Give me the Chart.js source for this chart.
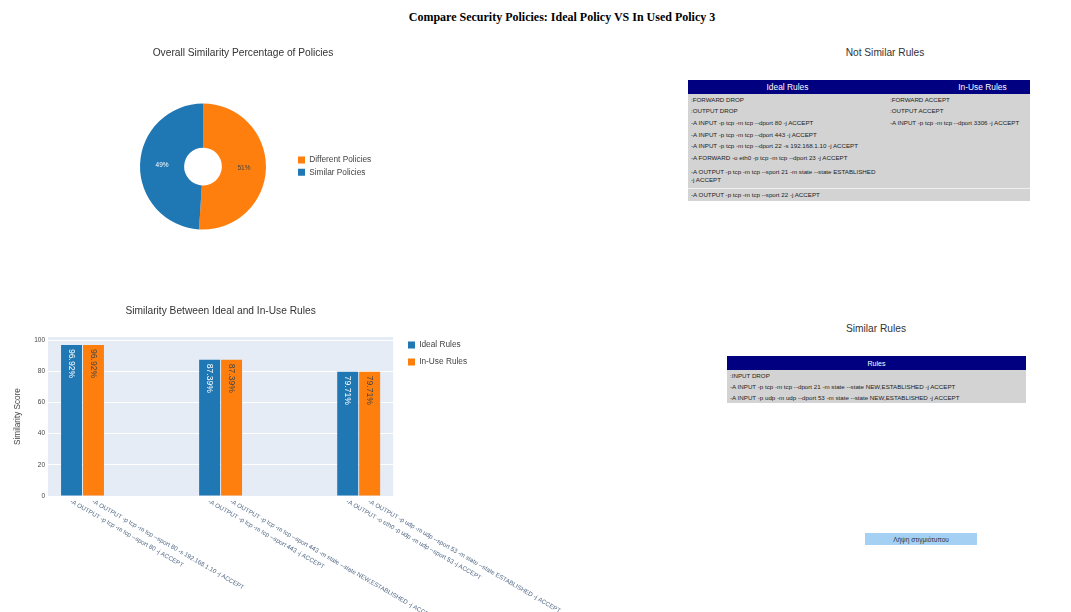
<!DOCTYPE html>
<html>
<head>
<meta charset="utf-8">
<title>Compare Security Policies</title>
<script src="https://cdn.jsdelivr.net/npm/chart.js@4.4.1/dist/chart.umd.min.js"></script>
<style>
  html, body { margin: 0; padding: 0; background: #fff; width: 1071px; height: 612px; overflow: hidden;
    font-family: "Liberation Sans", Arial, sans-serif; }
  #mainTitle { position: absolute; left: 362px; top: 10px; width: 400px; text-align: center;
    font: bold 12px "Liberation Serif", "Times New Roman", serif; color: #000; white-space: nowrap; }
  canvas { position: absolute; display: block; }
  #pieCanvas { left: 100px; top: 40px; width: 286px; height: 200px; }
  #barCanvas { left: 0; top: 290px; width: 600px; height: 322px; }
  .panelTitle { position: absolute; font-size: 10.2px; line-height: 12px; color: #333; text-align: center; white-space: nowrap; }
  table.rules { position: absolute; border-collapse: collapse; table-layout: fixed; background: #d3d3d3;
    font-size: 6.2px; color: #222; }
  table.rules th { background: #000080; color: #fff; font-weight: normal; height: 14px; padding: 0; font-size: 8.4px; }
  table.rules td { padding: 1.8px 3px; line-height: 8px; vertical-align: middle; text-align: left; }
  #diffTable { left: 688px; top: 80px; width: 342px; }
  #diffTable td:first-child { padding-right: 9px; }
  #diffTable tr.split td { border-top: 1px solid #f0f0f0; }
  #diffTable tr.wrapped td { padding-top: 4.2px; padding-bottom: 4.2px; }
  #sameTable { left: 727px; top: 356px; width: 299px; }
  #sameTable th { font-size: 7px; }
  #sameTable td { padding: 1.5px 3px; }
  #snapBtn { position: absolute; left: 865px; top: 533px; width: 112px; height: 12px; padding: 0; border: none;
    background: #a4d0f4; color: #333; font: 6.5px "Liberation Sans", Arial, sans-serif; }
</style>
</head>
<body>
<div id="mainTitle">Compare Security Policies: Ideal Policy VS In Used Policy 3</div>

<canvas id="pieCanvas" width="286" height="200"></canvas>
<canvas id="barCanvas" width="600" height="322"></canvas>

<div class="panelTitle" style="left:785px; top:47px; width:200px;">Not Similar Rules</div>
<table class="rules" id="diffTable">
  <colgroup><col style="width:199px"><col style="width:143px"></colgroup>
  <thead><tr><th>Ideal Rules</th><th style="padding-left:48px">In-Use Rules</th></tr></thead>
  <tbody></tbody>
</table>

<div class="panelTitle" style="left:776px; top:323px; width:200px;">Similar Rules</div>
<table class="rules" id="sameTable">
  <thead><tr><th>Rules</th></tr></thead>
  <tbody></tbody>
</table>

<button id="snapBtn">Λήψη στιγμιότυπου</button>

<script>
// ---- data ----
const policyLabels = ['Different Policies', 'Similar Policies'];
const policyShares = [51, 49];

const seriesNames = ['Ideal Rules', 'In-Use Rules'];
const groupPositions = [0, 1, 2];
const idealScores = [96.92, 87.39, 79.71];
const inUseScores = [96.92, 87.39, 79.71];
const idealRuleLabels = [
  '-A OUTPUT -p tcp -m tcp --sport 80 -j ACCEPT',
  '-A OUTPUT -p tcp -m tcp --sport 443 -j ACCEPT',
  '-A OUTPUT -o eth0 -p udp -m udp --sport 53 -j ACCEPT'
];
const inUseRuleLabels = [
  '-A OUTPUT -p tcp -m tcp --sport 80 -s 192.168.1.10 -j ACCEPT',
  '-A OUTPUT -p tcp -m tcp --sport 443 -m state --state NEW,ESTABLISHED -j ACCEPT',
  '-A OUTPUT -p udp -m udp --sport 53 -m state --state ESTABLISHED -j ACCEPT'
];
const scoreTicks = [0, 20, 40, 60, 80, 100];

const idealOnlyRules = [
  ':FORWARD DROP',
  ':OUTPUT DROP',
  '-A INPUT -p tcp -m tcp --dport 80 -j ACCEPT',
  '-A INPUT -p tcp -m tcp --dport 443 -j ACCEPT',
  '-A INPUT -p tcp -m tcp --dport 22 -s 192.168.1.10 -j ACCEPT',
  '-A FORWARD -o eth0 -p tcp -m tcp --dport 23 -j ACCEPT',
  '-A OUTPUT -p tcp -m tcp --sport 21 -m state --state ESTABLISHED -j ACCEPT',
  '-A OUTPUT -p tcp -m tcp --sport 22 -j ACCEPT'
];
const inUseOnlyRules = [
  ':FORWARD ACCEPT',
  ':OUTPUT ACCEPT',
  '-A INPUT -p tcp -m tcp --dport 3306 -j ACCEPT'
];
const sharedRules = [
  ':INPUT DROP',
  '-A INPUT -p tcp -m tcp --dport 21 -m state --state NEW,ESTABLISHED -j ACCEPT',
  '-A INPUT -p udp -m udp --dport 53 -m state --state NEW,ESTABLISHED -j ACCEPT'
];

// ---- styling ----
const BLUE = '#1f77b4';
const ORANGE = '#ff7f0e';
const FONT = '"Liberation Sans", Arial, sans-serif';
Chart.defaults.font.family = FONT;
Chart.defaults.color = '#444';

// ---- rule tables ----
(function buildTables() {
  const diffBody = document.querySelector('#diffTable tbody');
  const rows = Math.max(idealOnlyRules.length, inUseOnlyRules.length);
  for (let i = 0; i < rows; i++) {
    const tr = document.createElement('tr');
    if (i === rows - 1) tr.className = 'split';
    if (i === rows - 2) tr.className = 'wrapped';
    [idealOnlyRules[i], inUseOnlyRules[i]].forEach(txt => {
      const td = document.createElement('td');
      td.textContent = txt || '';
      tr.appendChild(td);
    });
    diffBody.appendChild(tr);
  }
  const sameBody = document.querySelector('#sameTable tbody');
  sharedRules.forEach(txt => {
    const tr = document.createElement('tr');
    const td = document.createElement('td');
    td.textContent = txt;
    tr.appendChild(td);
    sameBody.appendChild(tr);
  });
})();

// ---- plugins ----
// moves a legend box to a fixed spot inside its canvas
const legendPlacement = {
  id: 'legendPlacement',
  afterLayout(chart, args, opts) {
    const lg = chart.legend;
    if (!lg) return;
    if (opts.left !== undefined) { const dx = opts.left - lg.left; lg.left += dx; lg.right += dx; }
    if (opts.top !== undefined) { const dy = opts.top - lg.top; lg.top += dy; lg.bottom += dy; }
  }
};

// percentage text on each doughnut slice
const sliceLabels = {
  id: 'sliceLabels',
  afterDatasetsDraw(chart, args, opts) {
    const {ctx} = chart;
    const ds = chart.data.datasets[0];
    const total = ds.data.reduce((a, b) => a + b, 0);
    ctx.save();
    ctx.font = `${opts.size}px ${FONT}`;
    ctx.textAlign = 'center';
    ctx.textBaseline = 'middle';
    chart.getDatasetMeta(0).data.forEach((arc, i) => {
      const p = arc.getCenterPoint();
      ctx.fillStyle = opts.colors[i];
      ctx.fillText(Math.round(ds.data[i] / total * 100) + '%', p.x, p.y);
    });
    ctx.restore();
  }
};

// plot background behind the bars
const plotBackground = {
  id: 'plotBackground',
  beforeDraw(chart, args, opts) {
    const {ctx, chartArea: a} = chart;
    ctx.save();
    ctx.fillStyle = opts.color;
    ctx.fillRect(a.left, a.top, a.right - a.left, a.bottom - a.top);
    ctx.restore();
  }
};

// vertical value text inside the top of each bar
const barValueLabels = {
  id: 'barValueLabels',
  afterDatasetsDraw(chart, args, opts) {
    const {ctx} = chart;
    ctx.save();
    ctx.font = `${opts.size}px ${FONT}`;
    ctx.textAlign = 'left';
    ctx.textBaseline = 'middle';
    chart.data.datasets.forEach((ds, di) => {
      chart.getDatasetMeta(di).data.forEach((bar, j) => {
        ctx.save();
        ctx.translate(bar.x, bar.y + opts.inset);
        ctx.rotate(Math.PI / 2);
        ctx.fillStyle = opts.colors[di];
        ctx.fillText(ds.data[j].y.toFixed(2) + '%', 0, 0);
        ctx.restore();
      });
    });
    ctx.restore();
  }
};

// slanted rule text under every bar
const ruleTickLabels = {
  id: 'ruleTickLabels',
  afterDraw(chart, args, opts) {
    const {ctx, chartArea} = chart;
    ctx.save();
    ctx.font = `${opts.size}px ${FONT}`;
    ctx.fillStyle = opts.color;
    ctx.textAlign = 'left';
    ctx.textBaseline = 'middle';
    opts.labels.forEach((set, di) => {
      chart.getDatasetMeta(di).data.forEach((bar, j) => {
        ctx.save();
        ctx.translate(bar.x + opts.dx, chartArea.bottom + opts.dy);
        ctx.rotate(opts.angle * Math.PI / 180);
        ctx.fillText(set[j], 0, 0);
        ctx.restore();
      });
    });
    ctx.restore();
  }
};

// ---- doughnut: overall similarity ----
new Chart(document.getElementById('pieCanvas'), {
  type: 'doughnut',
  data: {
    labels: policyLabels,
    datasets: [{ data: policyShares, backgroundColor: [ORANGE, BLUE], borderWidth: 0 }]
  },
  options: {
    responsive: false,
    animation: false,
    cutout: '30%',
    layout: { padding: { left: 10, right: 10, top: 0, bottom: 10.5 } },
    plugins: {
      title: {
        display: true,
        text: 'Overall Similarity Percentage of Policies',
        color: '#333',
        font: { size: 10.2, weight: 'normal' },
        padding: { top: 6.9, bottom: 44.4 }
      },
      legend: {
        position: 'right',
        align: 'start',
        fullSize: false,
        maxWidth: 80,
        labels: { boxWidth: 7, boxHeight: 7, padding: 4, color: '#444', font: { size: 8.3 } }
      },
      legendPlacement: { left: 194, top: 111.9 },
      sliceLabels: { size: 6.5, colors: ['#444', '#ffffff'] },
      tooltip: { enabled: false }
    }
  },
  plugins: [legendPlacement, sliceLabels]
});

// ---- grouped bars: similarity per rule pair ----
const toPoints = vals => groupPositions.map((x, i) => ({ x, y: vals[i] }));

new Chart(document.getElementById('barCanvas'), {
  type: 'bar',
  data: {
    datasets: [
      { label: seriesNames[0], data: toPoints(idealScores), backgroundColor: BLUE, borderWidth: 0,
        categoryPercentage: 0.318, barPercentage: 0.955 },
      { label: seriesNames[1], data: toPoints(inUseScores), backgroundColor: ORANGE, borderWidth: 0,
        categoryPercentage: 0.318, barPercentage: 0.955 }
    ]
  },
  options: {
    responsive: false,
    animation: false,
    layout: { padding: { left: 0, right: 129, top: 0, bottom: 0 } },
    scales: {
      x: {
        type: 'linear',
        offset: false,
        min: -0.25,
        max: 2.25,
        grid: { display: false },
        border: { display: false },
        ticks: { display: false },
        afterBuildTicks: s => { s.ticks = groupPositions.map(v => ({ value: v })); },
        afterFit: s => { s.height = 116; }
      },
      y: {
        min: 0,
        max: 102,
        grid: { color: '#ffffff', lineWidth: 1, drawTicks: false },
        border: { display: false },
        ticks: { stepSize: 20, includeBounds: false, padding: 3, color: '#444', font: { size: 6.5 } },
        afterBuildTicks: s => { s.ticks = scoreTicks.map(v => ({ value: v })); },
        title: { display: true, text: 'Similarity Score', color: '#444', font: { size: 8.2 }, padding: { top: 13.1, bottom: 0 } },
        afterFit: s => { s.width = 48; }
      }
    },
    plugins: {
      title: {
        display: true,
        fullSize: false,
        text: 'Similarity Between Ideal and In-Use Rules',
        color: '#333',
        font: { size: 10.2, weight: 'normal' },
        padding: { top: 14.9, bottom: 19.9 }
      },
      legend: {
        position: 'right',
        align: 'start',
        labels: { boxWidth: 7, boxHeight: 7, padding: 8.7, color: '#444', font: { size: 8.3 } }
      },
      legendPlacement: { left: 399.3, top: 42.2 },
      plotBackground: { color: '#e5ecf6' },
      barValueLabels: { size: 8.6, inset: 4, colors: ['#ffffff', '#444'] },
      ruleTickLabels: { labels: [idealRuleLabels, inUseRuleLabels], size: 6.2, color: '#506784', angle: 30, dx: -1, dy: 5 },
      tooltip: { enabled: false }
    }
  },
  plugins: [legendPlacement, plotBackground, barValueLabels, ruleTickLabels]
});
</script>
</body>
</html>
